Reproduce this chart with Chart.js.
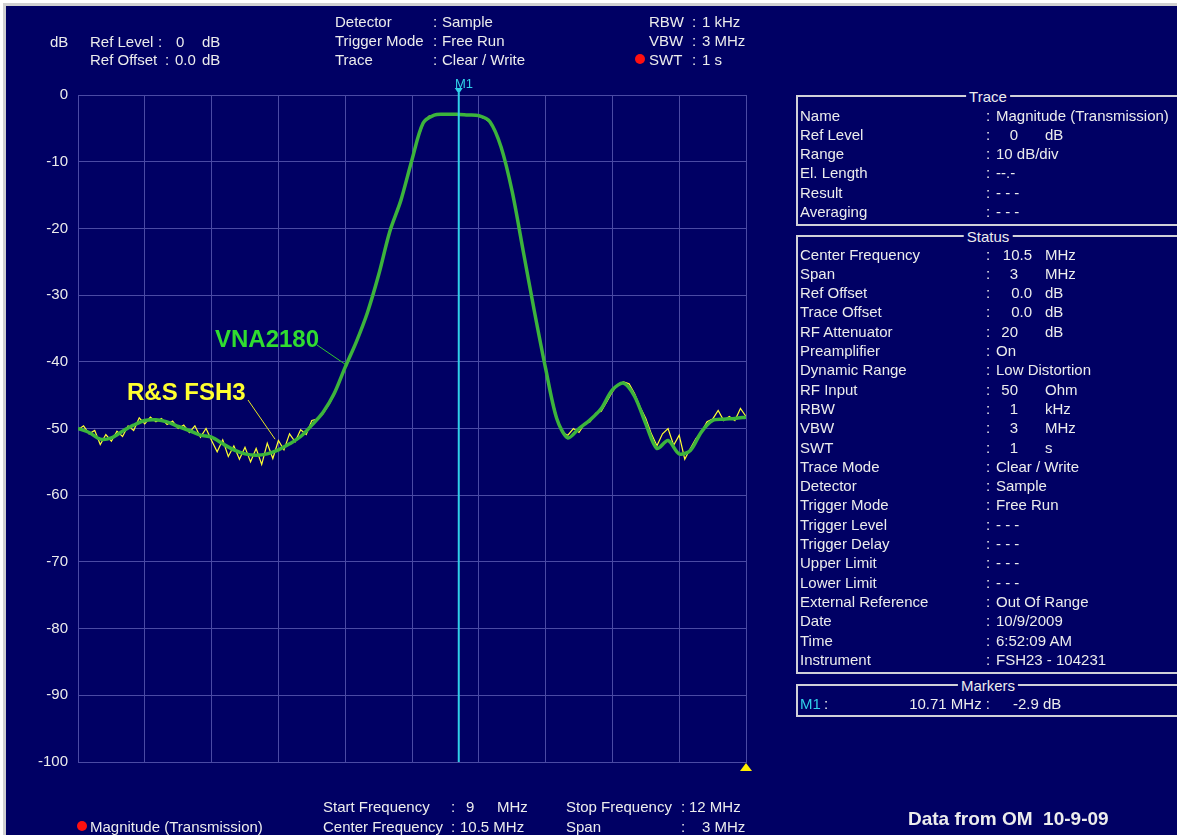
<!DOCTYPE html>
<html>
<head>
<meta charset="utf-8">
<script src="https://cdn.jsdelivr.net/npm/chart.js@4.4.0/dist/chart.umd.min.js"></script>
<style>
  body { margin: 0; width: 1177px; height: 835px; overflow: hidden; position: relative; background: #fff;
         font-family: "Liberation Sans", Arial, sans-serif; }
  #bg { position: absolute; left: 3px; top: 3px; width: 1171px; height: 829px; background: #000064;
        border-left: 3px solid #d0d0d0; border-top: 3px solid #d0d0d0; }
  canvas { position: absolute; left: 0; top: 0; }
  .t { position: absolute; color: #ececec; font-size: 15px; line-height: 17px; white-space: pre; z-index: 2; }
  .box { position: absolute; left: 796px; width: 420px; border: 2px solid #d0d0d8; z-index: 1; }
  .dot { position: absolute; width: 10px; height: 10px; border-radius: 50%; background: #ff1010; }
</style>
</head>
<body>
<div id="bg"></div>
<canvas id="spectrum" width="1177" height="835"></canvas>
<script>
// VNA2180 trace (green), frequency in MHz, level in dB
const gFreq = [
  9.00, 9.05, 9.10, 9.15, 9.20, 9.25, 9.30, 9.35, 9.40, 9.45,
  9.50, 9.55, 9.60, 9.65, 9.70, 9.75, 9.80, 9.85, 9.90, 9.95,
  10.00, 10.05, 10.10, 10.15, 10.20, 10.25, 10.30, 10.35, 10.40, 10.45,
  10.50, 10.55, 10.60, 10.65, 10.70, 10.75, 10.80, 10.85, 10.90, 10.95,
  11.00, 11.05, 11.10, 11.15, 11.20, 11.25, 11.30, 11.35, 11.40, 11.45,
  11.50, 11.55, 11.60, 11.65, 11.70, 11.75, 11.80, 11.85, 11.90, 11.95,
  12.00
];
const gDb = [
  -50.0, -50.6, -51.6, -51.4, -50.4, -49.5, -48.8, -48.7, -49.0, -49.7,
  -50.3, -51.0, -51.3, -52.3, -53.2, -53.8, -54.0, -53.8, -53.2, -52.3,
  -51.2, -49.5, -47.6, -44.8, -40.8, -37.0, -32.6, -27.0, -20.5, -15.8,
  -9.7, -4.2, -3.0, -2.9, -2.9, -3.0, -3.1, -4.0, -7.8, -14.5,
  -23.5, -32.5, -41.0, -48.5, -51.4, -50.0, -48.7, -47.0, -44.2, -43.2,
  -45.2, -49.3, -53.0, -51.8, -53.8, -53.3, -50.5, -48.8, -48.6, -48.5,
  -48.3
];

// R&S FSH3 trace (yellow)
const yFreq = [
  9.000, 9.025, 9.050, 9.075, 9.100, 9.125, 9.150, 9.175, 9.200, 9.225,
  9.250, 9.275, 9.300, 9.325, 9.350, 9.375, 9.400, 9.425, 9.450, 9.475,
  9.500, 9.525, 9.550, 9.575, 9.600, 9.625, 9.650, 9.675, 9.700, 9.725,
  9.750, 9.775, 9.800, 9.825, 9.850, 9.875, 9.900, 9.925, 9.950, 9.975,
  10.000, 10.025, 10.050, 10.075, 10.100, 10.125, 10.150, 10.175, 10.200, 10.225,
  10.250, 10.275, 10.300, 10.325, 10.350, 10.375, 10.400, 10.425, 10.450, 10.475,
  10.500, 10.525, 10.550, 10.575, 10.600, 10.625, 10.650, 10.675, 10.700, 10.725,
  10.750, 10.775, 10.800, 10.825, 10.850, 10.875, 10.900, 10.925, 10.950, 10.975,
  11.000, 11.025, 11.050, 11.075, 11.100, 11.125, 11.150, 11.175, 11.200, 11.225,
  11.250, 11.275, 11.300, 11.325, 11.350, 11.375, 11.400, 11.425, 11.450, 11.475,
  11.500, 11.525, 11.550, 11.575, 11.600, 11.625, 11.650, 11.675, 11.700, 11.725,
  11.750, 11.775, 11.800, 11.825, 11.850, 11.875, 11.900, 11.925, 11.950, 11.975,
  12.000
];
const yDb = [
  -50.2, -49.6, -50.8, -50.3, -52.4, -50.9, -51.9, -50.4, -51.2, -49.6,
  -50.3, -48.4, -49.3, -48.3, -49.0, -48.5, -49.4, -48.9, -50.0, -49.5,
  -50.6, -49.6, -51.3, -50.0, -51.8, -53.5, -51.7, -54.2, -52.6, -54.6,
  -52.8, -55.0, -53.0, -55.4, -52.2, -54.5, -51.8, -53.2, -50.8, -52.0,
  -50.2, -50.9, -48.8, -48.6, -47.8, -46.5, -45.0, -43.0, -40.9, -39.0,
  -37.0, -35.0, -32.6, -30.0, -27.0, -23.8, -20.5, -18.2, -15.8, -12.8,
  -9.7, -6.7, -4.3, -3.2, -3.0, -2.9, -2.9, -2.9, -2.9, -2.9,
  -3.0, -3.0, -3.2, -3.5, -4.1, -5.4, -7.9, -10.9, -14.4, -18.8,
  -23.4, -28.0, -32.6, -37.0, -40.9, -45.0, -48.3, -50.6, -51.0, -50.0,
  -50.6, -49.3, -49.0, -47.7, -47.4, -46.0, -44.5, -43.4, -43.0, -43.3,
  -44.8, -46.8, -48.5, -50.8, -52.6, -50.8, -50.0, -52.5, -51.0, -54.6,
  -53.0, -51.5, -50.5, -49.0, -48.6, -47.3, -48.8, -48.2, -48.8, -47.0,
  -48.2
];

const startFreq = 9, stopFreq = 12;
const refLevel = 0, bottomLevel = -100, dbPerDiv = 10;
const markerFreq = 10.71;

const navy = '#000064';
const gridColor = '#4a4aa4';

// text helper, yc = vertical centre of the caps
function txt(x, yc, s, o) {
  o = o || {};
  const d = document.createElement('div');
  d.className = 't';
  d.textContent = s;
  d.style.left = x + 'px';
  d.style.top = (yc - (o.off || 8.5)) + 'px';
  if (o.right) d.style.transform = 'translateX(-100%)';
  if (o.center) d.style.transform = 'translateX(-50%)';
  if (o.color) d.style.color = o.color;
  if (o.font) d.style.font = o.font;
  if (o.bg) { d.style.background = o.bg; d.style.padding = '0 3px'; }
  document.body.appendChild(d);
  return d;
}
function dot(cx, cy) {
  const d = document.createElement('div');
  d.className = 'dot';
  d.style.left = (cx - 5) + 'px';
  d.style.top = (cy - 5) + 'px';
  document.body.appendChild(d);
}
function box(top, bottom, title) {
  const b = document.createElement('div');
  b.className = 'box';
  b.style.top = top + 'px';
  b.style.height = (bottom - top) + 'px';
  document.body.appendChild(b);
  txt(988, top + 1, title, { center: true, bg: navy });
}

// header
txt(50, 41, 'dB');
txt(90, 41, 'Ref Level'); txt(158, 41, ':'); txt(176, 41, '0'); txt(202, 41, 'dB');
txt(90, 59, 'Ref Offset'); txt(165, 59, ':'); txt(175, 59, '0.0'); txt(202, 59, 'dB');

txt(335, 21, 'Detector'); txt(433, 21, ':'); txt(442, 21, 'Sample');
txt(335, 40, 'Trigger Mode'); txt(433, 40, ':'); txt(442, 40, 'Free Run');
txt(335, 59, 'Trace'); txt(433, 59, ':'); txt(442, 59, 'Clear / Write');

txt(649, 21, 'RBW'); txt(692, 21, ':'); txt(702, 21, '1 kHz');
txt(649, 40, 'VBW'); txt(692, 40, ':'); txt(702, 40, '3 MHz');
txt(649, 59, 'SWT'); txt(692, 59, ':'); txt(702, 59, '1 s');
dot(640, 59);

// footer
dot(82, 826); txt(90, 826, 'Magnitude (Transmission)');
txt(323, 806, 'Start Frequency'); txt(451, 806, ':'); txt(466, 806, '9'); txt(497, 806, 'MHz');
txt(323, 826, 'Center Frequency'); txt(451, 826, ':'); txt(460, 826, '10.5 MHz');
txt(566, 806, 'Stop Frequency'); txt(681, 806, ':'); txt(689, 806, '12 MHz');
txt(566, 826, 'Span'); txt(681, 826, ':'); txt(702, 826, '3 MHz');
txt(908, 819, 'Data from OM  10-9-09', { font: 'bold 19px "Liberation Sans", Arial, sans-serif', off: 11 });

// trace labels
txt(215, 338, 'VNA2180', { color: '#30dc30', font: 'bold 24px "Liberation Sans", Arial, sans-serif', off: 13.5 });
txt(127, 391, 'R&S FSH3', { color: '#ffff30', font: 'bold 24px "Liberation Sans", Arial, sans-serif', off: 13.5 });
txt(455, 83, 'M1', { color: '#30d0e8', font: '13px "Liberation Sans", Arial, sans-serif', off: 7.5 });

// right panel
const traceRows = [
  ['Name', 'Magnitude (Transmission)'],
  ['Ref Level', '0', 'dB'],
  ['Range', '10 dB/div'],
  ['El. Length', '--.-'],
  ['Result', '- - -'],
  ['Averaging', '- - -']
];
const statusRows = [
  ['Center Frequency', '10.5', 'MHz'],
  ['Span', '3', 'MHz'],
  ['Ref Offset', '0.0', 'dB'],
  ['Trace Offset', '0.0', 'dB'],
  ['RF Attenuator', '20', 'dB'],
  ['Preamplifier', 'On'],
  ['Dynamic Range', 'Low Distortion'],
  ['RF Input', '50', 'Ohm'],
  ['RBW', '1', 'kHz'],
  ['VBW', '3', 'MHz'],
  ['SWT', '1', 's'],
  ['Trace Mode', 'Clear / Write'],
  ['Detector', 'Sample'],
  ['Trigger Mode', 'Free Run'],
  ['Trigger Level', '- - -'],
  ['Trigger Delay', '- - -'],
  ['Upper Limit', '- - -'],
  ['Lower Limit', '- - -'],
  ['External Reference', 'Out Of Range'],
  ['Date', '10/9/2009'],
  ['Time', '6:52:09 AM'],
  ['Instrument', 'FSH23 - 104231']
];
function rows(list, y0) {
  list.forEach((r, i) => {
    const yc = y0 + i * 19.3;
    txt(800, yc, r[0]);
    txt(986, yc, ':');
    if (r.length === 3) {
      txt(r[1].includes('.') ? 1032 : 1018, yc, r[1], { right: true });
      txt(1045, yc, r[2]);
    } else {
      txt(996, yc, r[1]);
    }
  });
}
box(95, 222, 'Trace');
rows(traceRows, 115);
box(235, 670, 'Status');
rows(statusRows, 254);
box(684, 713, 'Markers');
txt(800, 703, 'M1', { color: '#30d0e8' }); txt(824, 703, ':');
txt(990, 703, '10.71 MHz :', { right: true });
txt(1013, 703, '-2.9 dB');

const labelAnchors = [
  { from: [317, 345], f: 10.21, db: -40.6, color: '#30c830' },
  { from: [248, 400], f: 9.885, db: -51.6, color: '#e8e820' }
];

const overlay = {
  id: 'overlay',
  afterDatasetsDraw(chart) {
    const { ctx, scales: { x, y } } = chart;
    ctx.save();
    // leader lines to the traces
    ctx.lineWidth = 1;
    labelAnchors.forEach(a => {
      ctx.strokeStyle = a.color;
      ctx.beginPath();
      ctx.moveTo(a.from[0], a.from[1]);
      ctx.lineTo(x.getPixelForValue(a.f), y.getPixelForValue(a.db));
      ctx.stroke();
    });
    // marker M1
    const mx = x.getPixelForValue(markerFreq);
    ctx.strokeStyle = '#30d0e8';
    ctx.fillStyle = '#30d0e8';
    ctx.lineWidth = 2;
    ctx.beginPath();
    ctx.moveTo(mx, y.top - 2);
    ctx.lineTo(mx, y.bottom);
    ctx.stroke();
    ctx.beginPath();
    ctx.moveTo(mx - 4, y.top - 7);
    ctx.lineTo(mx + 4, y.top - 7);
    ctx.lineTo(mx, y.top - 1);
    ctx.fill();
    // reference triangle at the bottom right
    ctx.fillStyle = '#ffee00';
    ctx.beginPath();
    ctx.moveTo(x.right, y.bottom + 1);
    ctx.lineTo(x.right - 6, y.bottom + 9);
    ctx.lineTo(x.right + 6, y.bottom + 9);
    ctx.fill();
    ctx.restore();
  }
};

new Chart(document.getElementById('spectrum'), {
  type: 'line',
  data: {
    datasets: [
      {
        label: 'VNA2180',
        data: gFreq.map((f, i) => ({ x: f, y: gDb[i] })),
        borderColor: '#3cb43c',
        borderWidth: 3.5,
        pointRadius: 0,
        tension: 0.3
      },
      {
        label: 'R&S FSH3',
        data: yFreq.map((f, i) => ({ x: f, y: yDb[i] })),
        borderColor: '#ffff30',
        borderWidth: 1.2,
        pointRadius: 0,
        tension: 0
      }
    ]
  },
  options: {
    responsive: false,
    animation: false,
    devicePixelRatio: 1,
    layout: { padding: { left: 0, top: 95, right: 431, bottom: 73 } },
    plugins: { legend: { display: false }, tooltip: { enabled: false } },
    scales: {
      x: {
        type: 'linear',
        min: startFreq,
        max: stopFreq,
        ticks: { display: false, count: 11 },
        grid: { color: gridColor, drawTicks: false },
        border: { color: gridColor },
        afterFit(s) { s.height = 0; }
      },
      y: {
        min: bottomLevel,
        max: refLevel,
        ticks: { stepSize: dbPerDiv, color: '#ececec', padding: 10,
                 font: { family: 'Liberation Sans', size: 15 } },
        grid: { color: gridColor, drawTicks: false },
        border: { color: gridColor },
        afterFit(s) { s.width = 78; }
      }
    }
  },
  plugins: [overlay]
});
</script>
</body>
</html>
